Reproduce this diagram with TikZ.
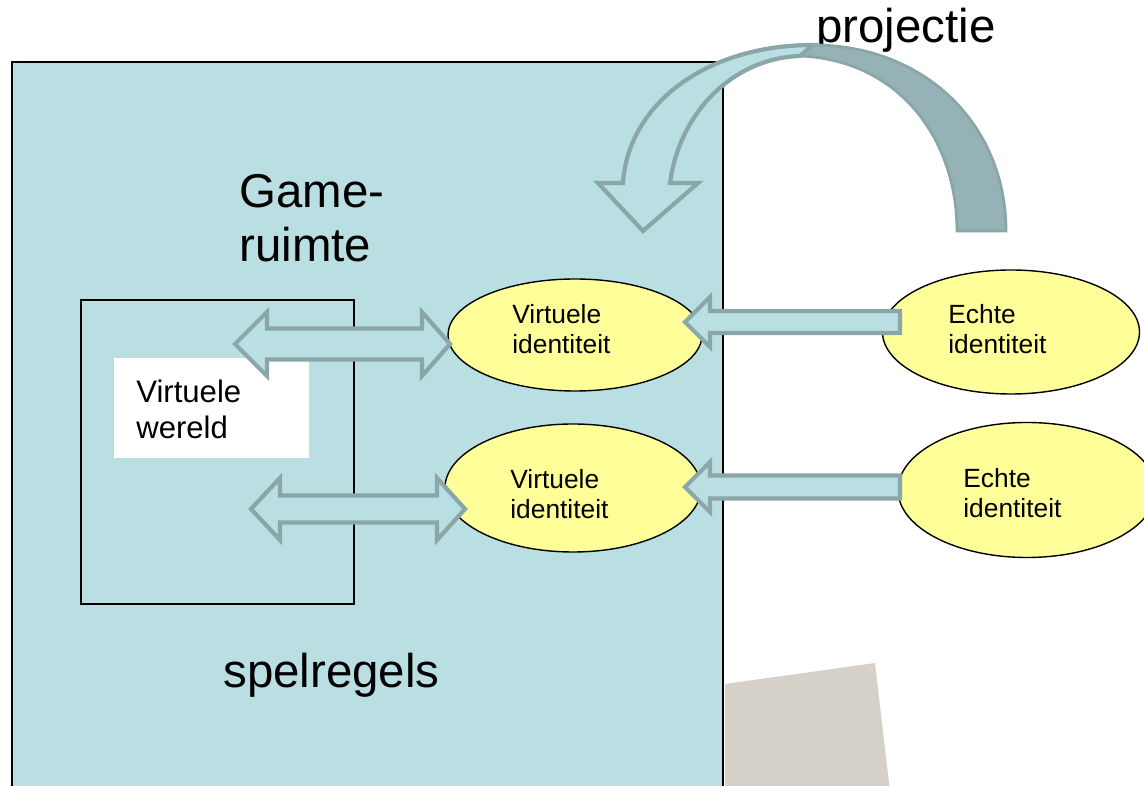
\documentclass[tikz,border=0pt]{standalone}
\usepackage{fontspec}
\setmainfont{Liberation Sans}
\usetikzlibrary{shapes.geometric}
\definecolor{bgblue}{HTML}{BADFE2}
\definecolor{arrline}{HTML}{8AA6A9}
\definecolor{darkband}{HTML}{95B3B6}
\definecolor{elly}{HTML}{FFFF99}
\definecolor{beige}{HTML}{D5D1C8}
\newcommand\myDblArrow[7]{% x1 x2 y headlenL headlenR headhalf shafthalf
  \draw[blockarr] (#1,#3) -- (#1+#4,#3-#6) -- (#1+#4,#3-#7) -- (#2-#5,#3-#7) -- (#2-#5,#3-#6)
    -- (#2,#3) -- (#2-#5,#3+#6) -- (#2-#5,#3+#7) -- (#1+#4,#3+#7) -- (#1+#4,#3+#6) -- cycle;}
\newcommand\myLeftArrow[6]{% tip base tail y headhalf shafthalf
  \draw[blockarr] (#1,#4) -- (#2,#4-#5) -- (#2,#4-#6) -- (#3,#4-#6) -- (#3,#4+#6)
    -- (#2,#4+#6) -- (#2,#4+#5) -- cycle;}
\begin{document}
\begin{tikzpicture}[x=0.02cm,y=-0.02cm,
  blockarr/.style={fill=bgblue,draw=arrline,line width=2.4pt,line join=miter},
  ell/.style={ellipse,draw=black,line width=0.8pt,fill=elly,inner sep=0pt},
  small/.style={font=\fontsize{15}{17.6}\selectfont,align=left,anchor=base west,inner sep=0pt},
  mid/.style={font=\fontsize{17.7}{21}\selectfont,align=left,anchor=base west,inner sep=0pt},
  big/.style={font=\fontsize{27}{31}\selectfont,align=left,anchor=base west,inner sep=0pt}]
\useasboundingbox (0,0) rectangle (1144,786);
% main game space
\draw[fill=bgblue,draw=black,line width=1.2pt] (12,800) -- (12,62) -- (723,62) -- (723,800);
% beige shape
\fill[beige] (725,684) -- (875,663) -- (891,800) -- (725,800) -- cycle;
% inner rect
\draw[black,line width=0.8pt] (81,300) rectangle (354,604);
% white box
\node[fill=white,minimum width=195*0.02cm,minimum height=100*0.02cm,inner sep=0pt,anchor=north west] (wbox) at (114,358) {};
\node[mid] (vw) at (136,439) {Virtuele\\wereld};
% texts
\node[big] (game) at (239,262) {Game-\\ruimte};
\node[big] (spel) at (223,688) {spelregels};
\node[big] (proj) at (816,43) {projectie};
% ellipses
\node[ell,minimum width=254*0.02cm,minimum height=112*0.02cm] (v1) at (575,335) {};
\node[ell,minimum width=256*0.02cm,minimum height=128*0.02cm] (v2) at (573,488) {};
\node[ell,minimum width=257*0.02cm,minimum height=124*0.02cm] (e1) at (1011,332) {};
\node[ell,minimum width=258*0.02cm,minimum height=135*0.02cm] (e2) at (1027,490) {};
\node[small] (v1t) at (512,354) {Virtuele\\identiteit};
\node[small] (v2t) at (510,519) {Virtuele\\identiteit};
\node[small] (e1t) at (948,354) {Echte\\identiteit};
\node[small] (e2t) at (963,518) {Echte\\identiteit};
% double arrows
\myDblArrow{235}{450}{344}{32}{28}{32}{15.5}
\myDblArrow{251}{465}{509}{29}{28}{31}{13.5}
% single arrows
\myLeftArrow{685}{710}{900}{322}{25}{11}
\myLeftArrow{685}{710}{900}{487}{25}{11.5}
% curved projection arrow: back band
\draw[fill=darkband,draw=arrline,line width=1.6pt]
  (813,45) .. controls (925,45) and (1006,125) .. (1006,231) -- (957,231)
  .. controls (957,140) and (900,60) .. (800,56) -- cycle;
% front part with head
\draw[blockarr]
  (813,45) .. controls (705,45) and (628,105) .. (623,183) -- (598,183) -- (643,231)
  -- (698,183) -- (670,183) .. controls (680,110) and (735,58) .. (800,56) -- cycle;
\end{tikzpicture}
\end{document}
